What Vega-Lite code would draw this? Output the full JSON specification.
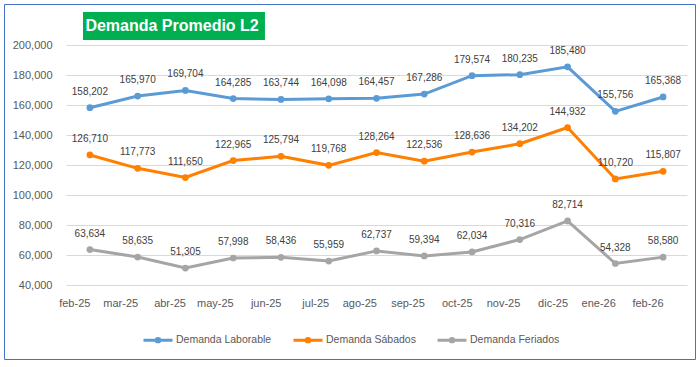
{
  "$schema": "https://vega.github.io/schema/vega-lite/v6.json",
  "width": 691,
  "height": 355,
  "autosize": {"type": "none"},
  "padding": {"left": 4, "top": 4, "right": 5, "bottom": 8},
  "background": "white",
  "config": {
    "view": {"stroke": "#4472C4", "strokeWidth": 1},
    "font": "Liberation Sans"
  },
  "datasets": {
    "demanda": [
      {"mes": "feb-25", "serie": "Demanda Laborable", "valor": 158202},
      {"mes": "mar-25", "serie": "Demanda Laborable", "valor": 165970},
      {"mes": "abr-25", "serie": "Demanda Laborable", "valor": 169704},
      {"mes": "may-25", "serie": "Demanda Laborable", "valor": 164285},
      {"mes": "jun-25", "serie": "Demanda Laborable", "valor": 163744},
      {"mes": "jul-25", "serie": "Demanda Laborable", "valor": 164098},
      {"mes": "ago-25", "serie": "Demanda Laborable", "valor": 164457},
      {"mes": "sep-25", "serie": "Demanda Laborable", "valor": 167286},
      {"mes": "oct-25", "serie": "Demanda Laborable", "valor": 179574},
      {"mes": "nov-25", "serie": "Demanda Laborable", "valor": 180235},
      {"mes": "dic-25", "serie": "Demanda Laborable", "valor": 185480},
      {"mes": "ene-26", "serie": "Demanda Laborable", "valor": 155756},
      {"mes": "feb-26", "serie": "Demanda Laborable", "valor": 165368},
      {"mes": "feb-25", "serie": "Demanda Sábados", "valor": 126710},
      {"mes": "mar-25", "serie": "Demanda Sábados", "valor": 117773},
      {"mes": "abr-25", "serie": "Demanda Sábados", "valor": 111650},
      {"mes": "may-25", "serie": "Demanda Sábados", "valor": 122965},
      {"mes": "jun-25", "serie": "Demanda Sábados", "valor": 125794},
      {"mes": "jul-25", "serie": "Demanda Sábados", "valor": 119768},
      {"mes": "ago-25", "serie": "Demanda Sábados", "valor": 128264},
      {"mes": "sep-25", "serie": "Demanda Sábados", "valor": 122536},
      {"mes": "oct-25", "serie": "Demanda Sábados", "valor": 128636},
      {"mes": "nov-25", "serie": "Demanda Sábados", "valor": 134202},
      {"mes": "dic-25", "serie": "Demanda Sábados", "valor": 144932},
      {"mes": "ene-26", "serie": "Demanda Sábados", "valor": 110720},
      {"mes": "feb-26", "serie": "Demanda Sábados", "valor": 115807},
      {"mes": "feb-25", "serie": "Demanda Feriados", "valor": 63634},
      {"mes": "mar-25", "serie": "Demanda Feriados", "valor": 58635},
      {"mes": "abr-25", "serie": "Demanda Feriados", "valor": 51305},
      {"mes": "may-25", "serie": "Demanda Feriados", "valor": 57998},
      {"mes": "jun-25", "serie": "Demanda Feriados", "valor": 58436},
      {"mes": "jul-25", "serie": "Demanda Feriados", "valor": 55959},
      {"mes": "ago-25", "serie": "Demanda Feriados", "valor": 62737},
      {"mes": "sep-25", "serie": "Demanda Feriados", "valor": 59394},
      {"mes": "oct-25", "serie": "Demanda Feriados", "valor": 62034},
      {"mes": "nov-25", "serie": "Demanda Feriados", "valor": 70316},
      {"mes": "dic-25", "serie": "Demanda Feriados", "valor": 82714},
      {"mes": "ene-26", "serie": "Demanda Feriados", "valor": 54328},
      {"mes": "feb-26", "serie": "Demanda Feriados", "valor": 58580}
    ],
    "titulo": [{"texto": "Demanda Promedio L2"}]
  },
  "layer": [
    {
      "data": {"name": "titulo"},
      "mark": {"type": "rect", "color": "#00B050", "xOffset": -6.9, "x2Offset": -16},
      "encoding": {
        "x": {"datum": "feb-25", "type": "ordinal"},
        "x2": {"datum": "jun-25"},
        "y": {"datum": 222000, "type": "quantitative"},
        "y2": {"datum": 203333}
      }
    },
    {
      "data": {"name": "titulo"},
      "mark": {"type": "text", "color": "white", "font": "Liberation Sans", "fontWeight": "bold", "fontSize": 16, "align": "left", "baseline": "middle", "dx": -4.5},
      "encoding": {
        "x": {"datum": "feb-25", "type": "ordinal"},
        "y": {"datum": 212700, "type": "quantitative"},
        "text": {"field": "texto"}
      }
    },
    {
      "data": {"name": "demanda"},
      "mark": {"type": "line", "strokeWidth": 3, "point": {"filled": true, "size": 45}},
      "encoding": {
        "x": {
          "field": "mes", "type": "ordinal",
          "scale": {"type": "point", "domain": ["feb-25","mar-25","abr-25","may-25","jun-25","jul-25","ago-25","sep-25","oct-25","nov-25","dic-25","ene-26","feb-26"], "range": [62, 683], "padding": 0.5},
          "axis": {"title": null, "orient": "bottom", "offset": -74, "domain": false, "ticks": false, "tickSize": 0, "labelPadding": 18, "labelAngle": 0, "labelFont": "Liberation Sans", "labelFontSize": 11, "labelColor": "#595959", "grid": false}
        },
        "y": {
          "field": "valor", "type": "quantitative",
          "scale": {"domain": [40000, 200000], "range": [281, 41], "nice": false, "zero": false},
          "axis": {"title": null, "orient": "left", "offset": -62, "values": [40000,60000,80000,100000,120000,140000,160000,180000,200000], "format": ",d", "domain": false, "ticks": false, "tickSize": 0, "labelPadding": 14, "labelFont": "Liberation Sans", "labelFontSize": 11, "labelColor": "#595959", "grid": true, "gridColor": "#D9D9D9", "gridWidth": 1}
        },
        "color": {
          "field": "serie", "type": "nominal",
          "scale": {"domain": ["Demanda Laborable", "Demanda Sábados", "Demanda Feriados"], "range": ["#5B9BD5", "#FF7F00", "#A5A5A5"]},
          "legend": {
            "title": null, "orient": "none", "direction": "horizontal", "legendX": 138, "legendY": 320, "padding": 0,
            "symbolType": "M-1,0H1M0.12,0A0.12,0.12,0,1,1,-0.12,0A0.12,0.12,0,1,1,0.12,0",
            "symbolSize": 841, "symbolStrokeWidth": 3, "labelOffset": 2, "columnPadding": 15,
            "labelFont": "Liberation Sans", "labelFontSize": 10.5, "labelColor": "#595959"
          }
        }
      }
    },
    {
      "data": {"name": "demanda"},
      "mark": {"type": "text", "baseline": "middle", "align": "center", "dy": -16, "font": "Liberation Sans", "fontSize": 10, "color": "#404040"},
      "encoding": {
        "x": {"field": "mes", "type": "ordinal"},
        "y": {"field": "valor", "type": "quantitative"},
        "text": {"field": "valor", "type": "quantitative", "format": ",d"}
      }
    }
  ]
}
